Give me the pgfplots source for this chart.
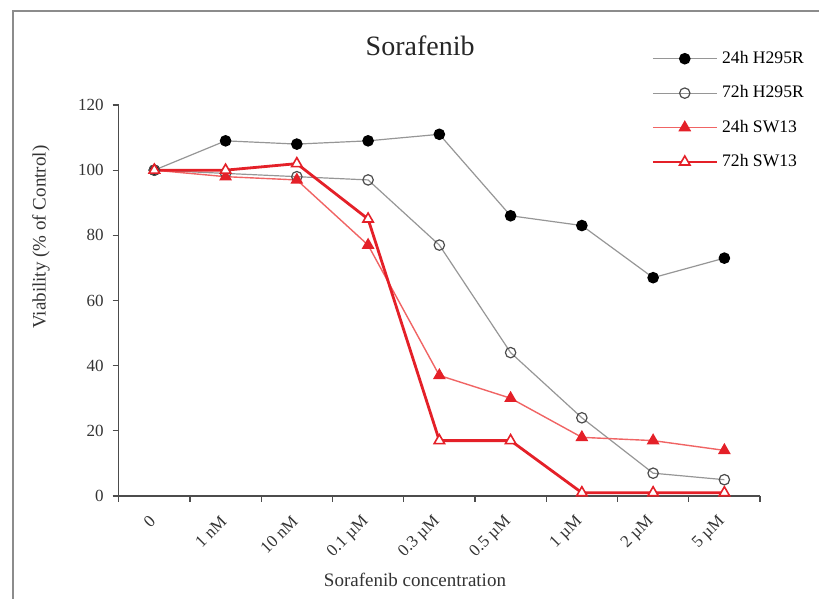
\documentclass[border=0pt]{standalone}
\usepackage{pgfplots}
\pgfplotsset{compat=1.18}
\usepackage{fontspec}
\setmainfont{Liberation Serif}

\definecolor{lineGray}{RGB}{150,150,150}
\definecolor{sRed}{RGB}{228,32,40}
\definecolor{sPink}{RGB}{240,100,100}
\definecolor{frameGray}{RGB}{140,140,140}

\begin{document}
\begin{tikzpicture}[x=0.5pt,y=0.5pt]
% page box and frame (units: 1 = 0.5pt, origin at axis lower-left)
\useasboundingbox (-118.7,-112) rectangle (700.3,496);
\draw[frameGray,line width=1pt] (-106,-103) -- (-106,485) -- (700.3,485);
\begin{axis}[
  at={(0,0)}, anchor=south west,
  scale only axis,
  width=320.65pt, height=195.5pt,
  xmin=-0.5, xmax=8.5,
  ymin=0, ymax=120,
  ytick={0,20,...,120},
  xtick={0,...,8},
  xticklabels={0,1 nM,10 nM,0.1 µM,0.3 µM,0.5 µM,1 µM,2 µM,5 µM},
  minor xtick={-0.5,0.5,...,8.5},
  axis x line*=bottom,
  axis y line*=left,
  axis line style={black!70, line width=0.6pt, -},
  major tick length=3pt,
  minor tick length=3pt,
  major x tick style={draw=none},
  minor x tick style={black!70, line width=0.6pt},
  ytick style={black!70, line width=0.6pt},
  tick align=outside,
  /pgf/number format/assume math mode=true,
  tick label style={font=\fontsize{8.5}{10}\selectfont, text=black!80},
  yticklabel style={xshift=-1pt},
  xticklabel style={xshift=1.5pt, yshift=-6pt, rotate=45, anchor=east},
  title={Sorafenib},
  title style={font=\fontsize{14}{16}\selectfont, text=black!85, at={(axis description cs:0.47,1.122)}, anchor=center},
  xlabel={Sorafenib concentration},
  xlabel style={font=\fontsize{9.5}{11}\selectfont, text=black!80, at={(axis description cs:0.462,-0.215)}, anchor=center},
  ylabel={Viability (\% of Control)},
  ylabel style={font=\fontsize{9.5}{11}\selectfont, text=black!80, at={(axis description cs:-0.121,0.662)}, anchor=center},
  legend style={draw=none, fill=none, at={(axis description cs:0.83,1.149)}, anchor=north west,
    font=\fontsize{8.8}{10}\selectfont, row sep=5.6pt, inner sep=0pt},
  legend cell align=left,
  legend image code/.code={\draw[mark repeat=2,mark phase=2,#1] plot coordinates {(0pt,0pt) (16pt,0pt) (32pt,0pt)};},
  clip=false,
]
% 24h H295R
\addplot[lineGray, line width=0.6pt, mark=*, mark size=2.6pt, mark options={fill=black, draw=black, solid}]
  coordinates {(0,100) (1,109) (2,108) (3,109) (4,111) (5,86) (6,83) (7,67) (8,73)};
\addlegendentry{24h H295R}
% 72h H295R
\addplot[lineGray, line width=0.6pt, mark=o, mark size=2.6pt, mark options={fill=white, draw=black!70, solid}]
  coordinates {(0,100) (1,99) (2,98) (3,97) (4,77) (5,44) (6,24) (7,7) (8,5)};
\addlegendentry{72h H295R}
% 24h SW13
\addplot[sPink, line width=0.7pt, mark=triangle*, mark size=3pt, mark options={fill=sRed, draw=sRed, solid}]
  coordinates {(0,100) (1,98) (2,97) (3,77) (4,37) (5,30) (6,18) (7,17) (8,14)};
\addlegendentry{24h SW13}
% 72h SW13
\addplot[sRed, line width=1.4pt, mark=triangle*, mark size=3pt, mark options={fill=white, draw=sRed, line width=0.8pt, solid}]
  coordinates {(0,100) (1,100) (2,102) (3,85) (4,17) (5,17) (6,1) (7,1) (8,1)};
\addlegendentry{72h SW13}
\end{axis}
\end{tikzpicture}
\end{document}
